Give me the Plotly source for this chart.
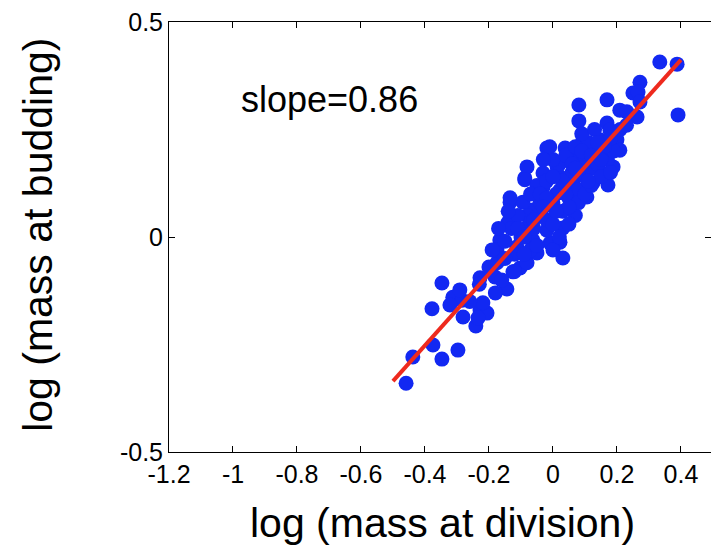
import plotly.graph_objects as go

# Scatter data: log(mass at division) vs log(mass at budding)
div_x = [
    -0.459, -0.438, -0.347, -0.375, -0.297, -0.378, -0.347, -0.241, -0.281, -0.313,
    -0.284, -0.322, -0.291, -0.228, -0.206, -0.219, -0.234, -0.144, -0.228, -0.181,
    -0.125, -0.175, -0.103, -0.081, -0.050, -0.009, 0.031, 0.022, 0.031, -0.019,
    -0.063, -0.041, 0.000, 0.022, -0.031, 0.022, 0.063, -0.081, -0.113, -0.063,
    -0.088, -0.134, -0.094, -0.141, -0.166, -0.175, 0.081, 0.081, 0.169, 0.209,
    0.250, 0.169, -0.019, 0.038, 0.094, 0.147, 0.200, 0.209, -0.081, -0.088,
    -0.031, 0.013, 0.063, 0.106, 0.147, 0.188, 0.172, 0.125, 0.063, 0.106,
    -0.031, 0.153, 0.334, 0.388, 0.272, 0.266, 0.272, 0.231, 0.263, 0.391,
    0.178, 0.156, -0.134,
    -0.10, -0.12, -0.15, -0.08, -0.06, -0.04, -0.02, 0.00, 0.01, 0.03,
    0.04, 0.05, 0.06, 0.08, 0.09, 0.10, 0.11, 0.12, 0.13, 0.14,
    0.02, 0.00, -0.05, -0.02, 0.07, 0.08, -0.11, -0.07, -0.13, -0.20,
    -0.16, -0.19, -0.23, -0.09, -0.05, 0.00, 0.02, 0.05, 0.10, 0.12,
    0.15, 0.17, 0.19, 0.21, 0.23, 0.18, 0.16, 0.11, 0.04, 0.07,
    -0.01, -0.03, 0.09, 0.13, -0.07, -0.14, -0.17, -0.12, -0.18, -0.26,
    0.03, 0.06, 0.09, 0.12, 0.00, -0.04, 0.05, 0.11, 0.14, -0.02,
    -0.11, -0.09, -0.06, -0.03, 0.01, 0.04, 0.07, 0.15, 0.18, -0.15,
]
bud_y = [
    -0.340, -0.279, -0.284, -0.251, -0.263, -0.167, -0.107, -0.207, -0.186, -0.140,
    -0.147, -0.158, -0.123, -0.170, -0.177, -0.153, -0.188, -0.121, -0.095, -0.093,
    -0.081, -0.060, -0.072, -0.060, -0.037, -0.014, -0.049, -0.012, 0.021, 0.016,
    -0.007, 0.056, 0.079, 0.109, 0.116, 0.140, 0.140, 0.023, -0.023, 0.063,
    0.137, 0.081, 0.081, 0.033, -0.007, -0.030, 0.307, 0.270, 0.319, 0.295,
    0.335, 0.265, 0.207, 0.207, 0.226, 0.226, 0.226, 0.202, 0.163, 0.133,
    0.149, 0.163, 0.186, 0.163, 0.186, 0.163, 0.121, 0.126, 0.133, 0.093,
    0.086, 0.149, 0.407, 0.402, 0.360, 0.337, 0.314, 0.291, 0.279, 0.284,
    0.249, 0.202, 0.091,
    0.00, -0.04, -0.05, 0.05, 0.02, 0.08, 0.04, 0.03, 0.10, 0.06,
    0.12, 0.09, 0.15, 0.11, 0.17, 0.14, 0.19, 0.16, 0.20, 0.17,
    0.17, 0.18, 0.12, 0.13, 0.05, 0.08, 0.05, -0.03, 0.02, -0.07,
    -0.10, -0.03, -0.11, -0.04, -0.02, -0.03, 0.00, 0.03, 0.10, 0.12,
    0.14, 0.18, 0.20, 0.25, 0.26, 0.23, 0.21, 0.22, 0.19, 0.21,
    0.21, 0.18, 0.24, 0.25, 0.10, 0.06, 0.02, -0.08, -0.13, -0.15,
    0.13, 0.17, 0.20, 0.19, 0.14, 0.10, 0.07, 0.13, 0.22, 0.09,
    0.02, 0.00, 0.04, 0.07, 0.06, 0.10, 0.16, 0.18, 0.15, -0.01,
]

# Fitted line endpoints
fit_x = [-0.50, 0.40]
fit_y = [-0.335, 0.412]

x_tickvals = [-1.2, -1.0, -0.8, -0.6, -0.4, -0.2, 0.0, 0.2, 0.4]
x_ticktext = ["-1.2", "-1", "-0.8", "-0.6", "-0.4", "-0.2", "0", "0.2", "0.4"]
y_tickvals = [-0.5, 0.0, 0.5]
y_ticktext = ["-0.5", "0", "0.5"]

FONT = "Liberation Sans, Arial, sans-serif"

fig = go.Figure()
fig.add_trace(go.Scatter(
    x=div_x, y=bud_y, mode="markers",
    marker=dict(size=15, color="#1228f2", line=dict(width=0)),
    showlegend=False, hoverinfo="x+y",
))
fig.add_trace(go.Scatter(
    x=fit_x, y=fit_y, mode="lines",
    line=dict(color="#ee2a1e", width=4),
    showlegend=False,
))

fig.add_annotation(
    x=-0.697, y=0.319, xref="x", yref="y", text="slope=0.86",
    showarrow=False, font=dict(family=FONT, size=36, color="black"),
)
# Axis titles
fig.add_annotation(
    x=0.504, y=-0.165, xref="paper", yref="paper", text="log (mass at division)",
    showarrow=False, xanchor="center", yanchor="middle",
    font=dict(family=FONT, size=41, color="black"),
)
fig.add_annotation(
    x=-0.2417, y=0.505, xref="paper", yref="paper", text="log (mass at budding)",
    showarrow=False, xanchor="center", yanchor="middle", textangle=-90,
    font=dict(family=FONT, size=41, color="black"),
)

axis_font = dict(family=FONT, size=25, color="black")

fig.update_layout(
    width=711, height=555,
    margin=dict(l=169, r=0, t=22, b=103),
    paper_bgcolor="white", plot_bgcolor="white",
    xaxis=dict(
        range=[-1.2, 0.494], tickvals=x_tickvals, ticktext=x_ticktext,
        ticks="inside", ticklen=6, tickcolor="black", showline=True, linecolor="black",
        linewidth=1, mirror="ticks", showgrid=False, zeroline=False,
        tickfont=axis_font,
    ),
    yaxis=dict(
        range=[-0.5, 0.5], tickvals=y_tickvals, ticktext=y_ticktext,
        ticks="inside", ticklen=6, tickcolor="black", showline=True, linecolor="black",
        linewidth=1, mirror="ticks", showgrid=False, zeroline=False,
        tickfont=axis_font,
    ),
)

fig.write_html("out.html")
